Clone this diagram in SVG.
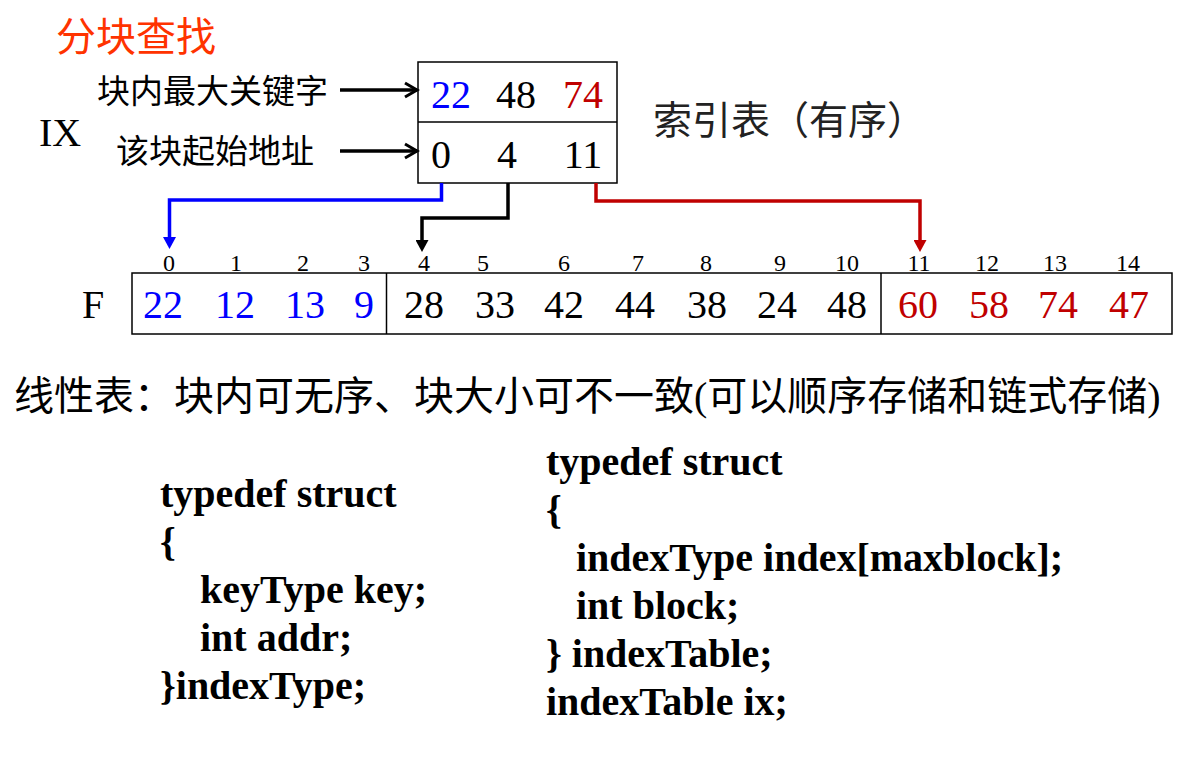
<svg xmlns="http://www.w3.org/2000/svg" width="1196" height="764" viewBox="0 0 1196 764">
<style>
.cjk{font-family:"Noto Sans CJK SC","Noto Sans",sans-serif;}
.ser{font-family:"Liberation Serif","Times New Roman",serif;}
.num{font-family:"Liberation Serif","Times New Roman",serif;font-size:40px;text-anchor:middle;}
.idx{font-family:"Liberation Serif","Times New Roman",serif;font-size:24px;text-anchor:middle;fill:#000;}
.code{font-family:"Liberation Serif","Times New Roman",serif;font-size:40px;font-weight:bold;fill:#000;}
.blue{fill:#0000FF;}
.red{fill:#C00000;}
.blk{fill:#000;}
.box{fill:#fff;stroke:#000;stroke-width:1.5;}
.conn{fill:none;stroke-width:3.5;stroke-linejoin:miter;}
</style>
<defs>
<marker id="chev" markerUnits="userSpaceOnUse" markerWidth="18" markerHeight="18" refX="14" refY="8" orient="auto" viewBox="0 0 18 16">
<path d="M2,1 L14,8 L2,15" fill="none" stroke="#000" stroke-width="3"/>
</marker>
<marker id="triB" markerUnits="userSpaceOnUse" markerWidth="12" markerHeight="13" refX="0" refY="6.5" orient="auto" viewBox="0 0 12 13">
<path d="M0,0 L12,6.5 L0,13 z" fill="#0000FF"/>
</marker>
<marker id="triK" markerUnits="userSpaceOnUse" markerWidth="12" markerHeight="13" refX="0" refY="6.5" orient="auto" viewBox="0 0 12 13">
<path d="M0,0 L12,6.5 L0,13 z" fill="#000"/>
</marker>
<marker id="triR" markerUnits="userSpaceOnUse" markerWidth="12" markerHeight="13" refX="0" refY="6.5" orient="auto" viewBox="0 0 12 13">
<path d="M0,0 L12,6.5 L0,13 z" fill="#C00000"/>
</marker>
</defs>
<rect width="1196" height="764" fill="#fff"/>

<g id="title">
<text class="cjk" x="56" y="51" font-size="40" fill="#FF3300">分块查找</text>
</g>

<g id="labels">
<text class="cjk" x="97" y="103" font-size="33" fill="#000">块内最大关键字</text>
<text class="cjk" x="116" y="163" font-size="33" fill="#000">该块起始地址</text>
<text class="ser" x="39" y="146" font-size="40" fill="#000">IX</text>
<text class="cjk" x="653" y="134" font-size="39" fill="#222">索引表（有序）</text>
<text class="ser" x="82" y="318" font-size="40" fill="#000">F</text>
</g>

<g id="index-table">
<rect class="box" x="418" y="62" width="199" height="121"/>
<line x1="418" y1="122" x2="617" y2="122" stroke="#000" stroke-width="1.5"/>
<text class="num blue" x="451" y="108">22</text>
<text class="num blk" x="516" y="108">48</text>
<text class="num red" x="583" y="108">74</text>
<text class="num blk" x="441" y="168">0</text>
<text class="num blk" x="507" y="168">4</text>
<text class="num blk" x="583" y="168">11</text>
</g>

<g id="array-F">
<rect class="box" x="132" y="273" width="1040" height="61"/>
<line x1="386.5" y1="273" x2="386.5" y2="334" stroke="#000" stroke-width="1.5"/>
<line x1="881" y1="273" x2="881" y2="334" stroke="#000" stroke-width="1.5"/>
<text class="idx" x="169" y="271">0</text>
<text class="idx" x="236" y="271">1</text>
<text class="idx" x="303" y="271">2</text>
<text class="idx" x="364" y="271">3</text>
<text class="idx" x="424" y="271">4</text>
<text class="idx" x="483" y="271">5</text>
<text class="idx" x="564" y="271">6</text>
<text class="idx" x="638" y="271">7</text>
<text class="idx" x="706" y="271">8</text>
<text class="idx" x="780" y="271">9</text>
<text class="idx" x="847" y="271">10</text>
<text class="idx" x="919" y="271">11</text>
<text class="idx" x="987" y="271">12</text>
<text class="idx" x="1055" y="271">13</text>
<text class="idx" x="1128" y="271">14</text>
<text class="num blue" x="163" y="318">22</text>
<text class="num blue" x="235" y="318">12</text>
<text class="num blue" x="305" y="318">13</text>
<text class="num blue" x="364" y="318">9</text>
<text class="num blk" x="424" y="318">28</text>
<text class="num blk" x="495" y="318">33</text>
<text class="num blk" x="564" y="318">42</text>
<text class="num blk" x="635" y="318">44</text>
<text class="num blk" x="707" y="318">38</text>
<text class="num blk" x="777" y="318">24</text>
<text class="num blk" x="847" y="318">48</text>
<text class="num red" x="918" y="318">60</text>
<text class="num red" x="989" y="318">58</text>
<text class="num red" x="1058" y="318">74</text>
<text class="num red" x="1129" y="318">47</text>
</g>

<g id="connectors">
<path d="M340,90 H417" fill="none" stroke="#000" stroke-width="3.5" marker-end="url(#chev)"/>
<path d="M340,151 H417" fill="none" stroke="#000" stroke-width="3.5" marker-end="url(#chev)"/>
<path class="conn" d="M441.5,183 V200 H169.5 V237" stroke="#0000FF" marker-end="url(#triB)"/>
<path class="conn" d="M508,183 V218 H422 V240" stroke="#000" marker-end="url(#triK)"/>
<path class="conn" d="M596,183 V201 H920 V240" stroke="#C00000" marker-end="url(#triR)"/>
</g>

<g id="note">
<text class="cjk" x="14" y="410" font-size="40" fill="#000">线性表：块内可无序、块大小可不一致<tspan class="ser">(</tspan>可以顺序存储和链式存储<tspan class="ser">)</tspan></text>
</g>

<g id="code-indexType">
<text class="code" x="160" y="507">typedef struct</text>
<text class="code" x="160" y="555">{</text>
<text class="code" x="200" y="603">keyType key;</text>
<text class="code" x="200" y="651">int addr;</text>
<text class="code" x="160" y="699">}indexType;</text>
</g>

<g id="code-indexTable">
<text class="code" x="546" y="475">typedef struct</text>
<text class="code" x="546" y="523">{</text>
<text class="code" x="576" y="571">indexType index[maxblock];</text>
<text class="code" x="576" y="619">int block;</text>
<text class="code" x="546" y="667">} indexTable;</text>
<text class="code" x="546" y="715">indexTable ix;</text>
</g>
</svg>
